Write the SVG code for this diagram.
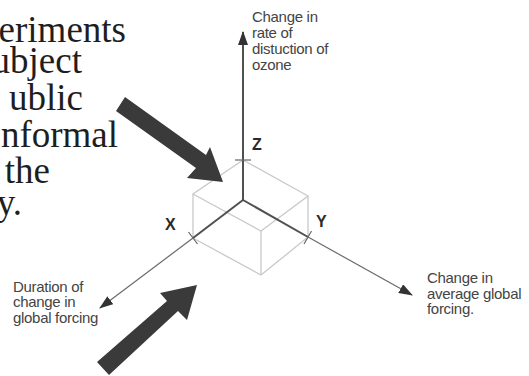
<svg xmlns="http://www.w3.org/2000/svg" width="529" height="376" viewBox="0 0 529 376">
<style>
.serif{font-family:"Liberation Serif","Times New Roman",serif;font-size:37px;fill:#1e1e1e;text-anchor:end}
.lbl{font-family:"Liberation Sans",Arial,sans-serif;font-size:15px;fill:#444;letter-spacing:-0.3px}
.ax{font-family:"Liberation Sans",Arial,sans-serif;font-size:16px;font-weight:bold;fill:#2a2a2a}
.cube{stroke:#c9c9c9;stroke-width:1.3;fill:none}
.axin{stroke:#505050;stroke-width:2;fill:none}
.axout{stroke:#6a6a6a;stroke-width:1.2;fill:none}
.tick{stroke:#666;stroke-width:1.2;fill:none}
.big{fill:#3a3a3a}
</style>
<defs>
<marker id="ah" markerWidth="14" markerHeight="10" refX="13" refY="5" orient="auto" markerUnits="userSpaceOnUse">
<path d="M0,0 L14,5 L0,10 Z" fill="#333"/>
</marker>
</defs>
<rect width="529" height="376" fill="#fff"/>
<g id="body-text">
<text class="serif" x="126" y="42">eriments</text>
<text class="serif" x="82" y="73">ubject</text>
<text class="serif" x="83" y="110">ublic</text>
<text class="serif" x="118" y="147">nformal</text>
<text class="serif" x="50" y="183">the</text>
<text class="serif" x="22" y="215">y.</text>
</g>
<g id="cube">
<path class="cube" d="M243,160 L193,194 L261,231 L308,196 Z"/>
<path class="cube" d="M193,194 L193,238 M308,196 L308,237 M261,231 L261,275 M193,238 L261,275 L308,237"/>
</g>
<g id="connectors">
<path class="axin" d="M243,200 L243,160"/>
<path class="axin" d="M243,160 L243,32" marker-end="url(#ah)"/>
<path class="axin" d="M243,200 L193,238"/>
<path class="axout" d="M193,238 L100,308" marker-end="url(#ah)"/>
<path class="axin" d="M243,200 L308,237"/>
<path class="axout" d="M308,237 L412,295" marker-end="url(#ah)"/>
<path class="tick" d="M235,160 L251,160"/>
<path class="tick" d="M188.5,232 L197.5,244"/>
<path class="tick" d="M311.5,231 L304,244"/>
</g>
<g id="arrow-top">
<polygon class="big" points="125,97 206,155 210,147 223,182 187,178 196,168 116,111"/>
</g>
<g id="arrow-bottom">
<polygon class="big" points="197,285 160,293 167,301 97,362 109,375 178,311 187,320"/>
</g>
<g id="label-z">
<text class="ax" x="252" y="150">Z</text>
<text class="lbl" x="252" y="22">Change in</text>
<text class="lbl" x="252" y="38">rate of</text>
<text class="lbl" x="252" y="54">distuction of</text>
<text class="lbl" x="252" y="70">ozone</text>
</g>
<g id="label-x">
<text class="ax" x="165" y="230">X</text>
<text class="lbl" x="13" y="292">Duration of</text>
<text class="lbl" x="13" y="307">change in</text>
<text class="lbl" x="13" y="323">global forcing</text>
</g>
<g id="label-y">
<text class="ax" x="316" y="227">Y</text>
<text class="lbl" x="427" y="283">Change in</text>
<text class="lbl" x="427" y="299">average global</text>
<text class="lbl" x="427" y="314">forcing.</text>
</g>
</svg>
